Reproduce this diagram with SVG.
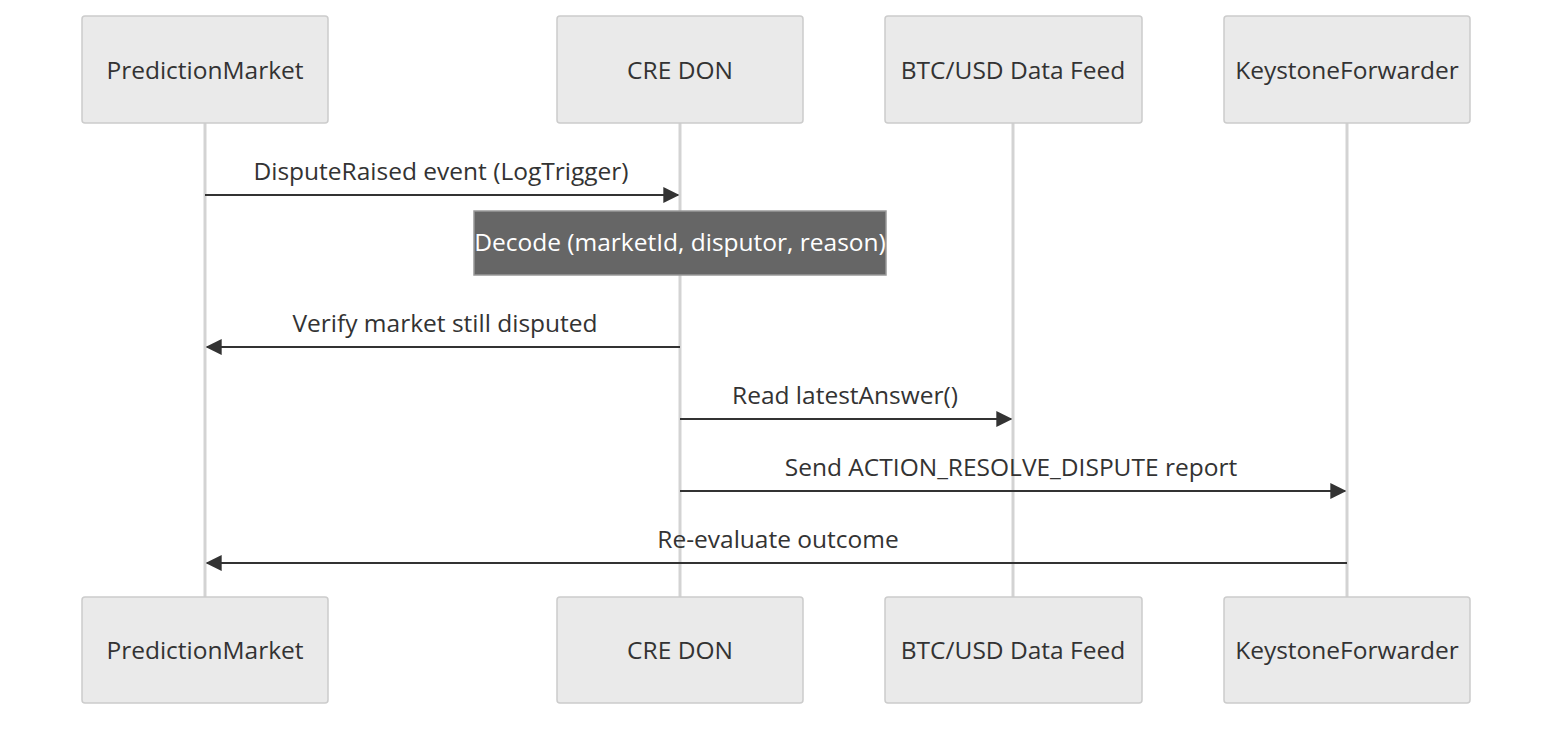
<svg xmlns="http://www.w3.org/2000/svg" width="1568" height="730" viewBox="0 0 1568 730">
<style>
.actor{fill:#eaeaea;stroke:#cccccc;stroke-width:1.5}
.life{stroke:#d3d3d3;stroke-width:3}
text{font-family:"Open Sans","Liberation Sans",sans-serif;font-size:24.5px;fill:#333;text-anchor:middle}
.msg{stroke:#333;stroke-width:2.2;fill:none;marker-end:url(#ah)}
.note{fill:#666;stroke:#999;stroke-width:1.5}
.nt{fill:#fff;font-size:24.5px}
</style>
<defs>
<marker id="ah" viewBox="0 0 12 12" refX="11" refY="6" markerWidth="16" markerHeight="16" markerUnits="userSpaceOnUse" orient="auto"><path d="M0,0 L12,6 L0,12 z" fill="#333"/></marker>
</defs>
<rect width="1568" height="730" fill="#fff"/>
<g id="lifelines">
<line class="life" x1="205" y1="123" x2="205" y2="597"/>
<line class="life" x1="680" y1="123" x2="680" y2="597"/>
<line class="life" x1="1013" y1="123" x2="1013" y2="597"/>
<line class="life" x1="1347" y1="123" x2="1347" y2="597"/>
</g>
<g id="actor-pm-top"><rect class="actor" x="82" y="16" width="246" height="107" rx="3"/><text x="205" y="79">PredictionMarket</text></g>
<g id="actor-cre-top"><rect class="actor" x="557" y="16" width="246" height="107" rx="3"/><text x="680" y="79">CRE DON</text></g>
<g id="actor-btc-top"><rect class="actor" x="885" y="16" width="257" height="107" rx="3"/><text x="1013" y="79">BTC/USD Data Feed</text></g>
<g id="actor-ks-top"><rect class="actor" x="1224" y="16" width="246" height="107" rx="3"/><text x="1347" y="79">KeystoneForwarder</text></g>
<g id="actor-pm-bot"><rect class="actor" x="82" y="597" width="246" height="106" rx="3"/><text x="205" y="659">PredictionMarket</text></g>
<g id="actor-cre-bot"><rect class="actor" x="557" y="597" width="246" height="106" rx="3"/><text x="680" y="659">CRE DON</text></g>
<g id="actor-btc-bot"><rect class="actor" x="885" y="597" width="257" height="106" rx="3"/><text x="1013" y="659">BTC/USD Data Feed</text></g>
<g id="actor-ks-bot"><rect class="actor" x="1224" y="597" width="246" height="106" rx="3"/><text x="1347" y="659">KeystoneForwarder</text></g>
<g id="note"><rect class="note" x="474" y="211" width="412" height="64"/><text class="nt" x="680" y="251">Decode (marketId, disputor, reason)</text></g>
<g id="connectors">
<line class="msg" x1="205" y1="195" x2="678" y2="195"/>
<text x="441" y="180">DisputeRaised event (LogTrigger)</text>
<line class="msg" x1="680" y1="347" x2="207" y2="347"/>
<text x="445" y="332">Verify market still disputed</text>
<line class="msg" x1="680" y1="419" x2="1011" y2="419"/>
<text x="845" y="404">Read latestAnswer()</text>
<line class="msg" x1="680" y1="491" x2="1345" y2="491"/>
<text x="1011" y="476">Send ACTION_RESOLVE_DISPUTE report</text>
<line class="msg" x1="1347" y1="563" x2="207" y2="563"/>
<text x="778" y="548">Re-evaluate outcome</text>
</g>
</svg>
